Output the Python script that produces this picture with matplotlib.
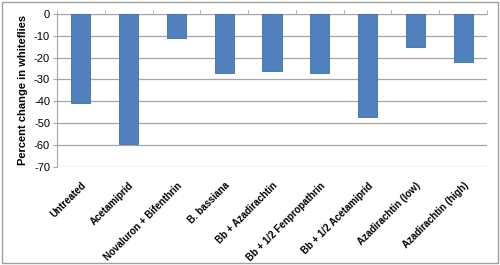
import matplotlib
matplotlib.use("Agg")
import matplotlib.pyplot as plt
from matplotlib.patches import Rectangle

categories = ["Untreated", "Acetamiprid", "Novaluron + Bifenthrin", "B. bassiana",
              "Bb + Azadirachtin", "Bb + 1/2 Fenpropathrin", "Bb + 1/2 Acetamiprid",
              "Azadirachtin (low)", "Azadirachtin (high)"]
values = [-41, -59.5, -11, -27, -26, -27, -47, -15, -22]
yticks = [0, -10, -20, -30, -40, -50, -60, -70]

plt.rcParams['font.family'] = ['Liberation Sans', 'DejaVu Sans']

fig = plt.figure(figsize=(5, 2.65), dpi=100)
ax = fig.add_axes([0.114, 0.371, 0.86, 0.576])

x = list(range(len(categories)))
ax.bar(x, values, width=0.4, color='#4F81BD', edgecolor='#3F6FA8', linewidth=0.6, zorder=3)

ax.set_xlim(-0.5, len(categories) - 0.5)
ax.set_ylim(-70, 0)
ax.set_yticks(yticks)
ax.set_yticklabels([str(v) for v in yticks], fontsize=8)
ax.yaxis.grid(True, color='#A6A6A6', linewidth=0.9, zorder=0)
ax.set_axisbelow(True)

for s in ['right', 'bottom']:
    ax.spines[s].set_visible(False)
ax.spines['left'].set_color('#A6A6A6')
ax.spines['top'].set_color('#A6A6A6')
ax.tick_params(axis='y', length=3, color='#A6A6A6', pad=2)

# category ticks at boundaries on top axis (y = 0)
ax.set_xticks([i - 0.5 for i in range(len(categories) + 1)], minor=True)
ax.tick_params(axis='x', which='minor', top=True, bottom=False, length=3, color='#A6A6A6', direction='out')
ax.set_xticks(x)
ax.set_xticklabels(categories, rotation=45, ha='right', rotation_mode='anchor',
                   fontsize=7, fontweight='bold')
ax.tick_params(axis='x', which='major', length=0, pad=10)

ax.set_ylabel("Percent change in whiteflies", fontsize=8, fontweight='bold', labelpad=4)

fig.patches.append(Rectangle((0.004, 0.008), 0.992, 0.984, transform=fig.transFigure,
                             fill=False, edgecolor='#A0A0A0', linewidth=1.0))

fig.savefig("out.png", dpi=100)
